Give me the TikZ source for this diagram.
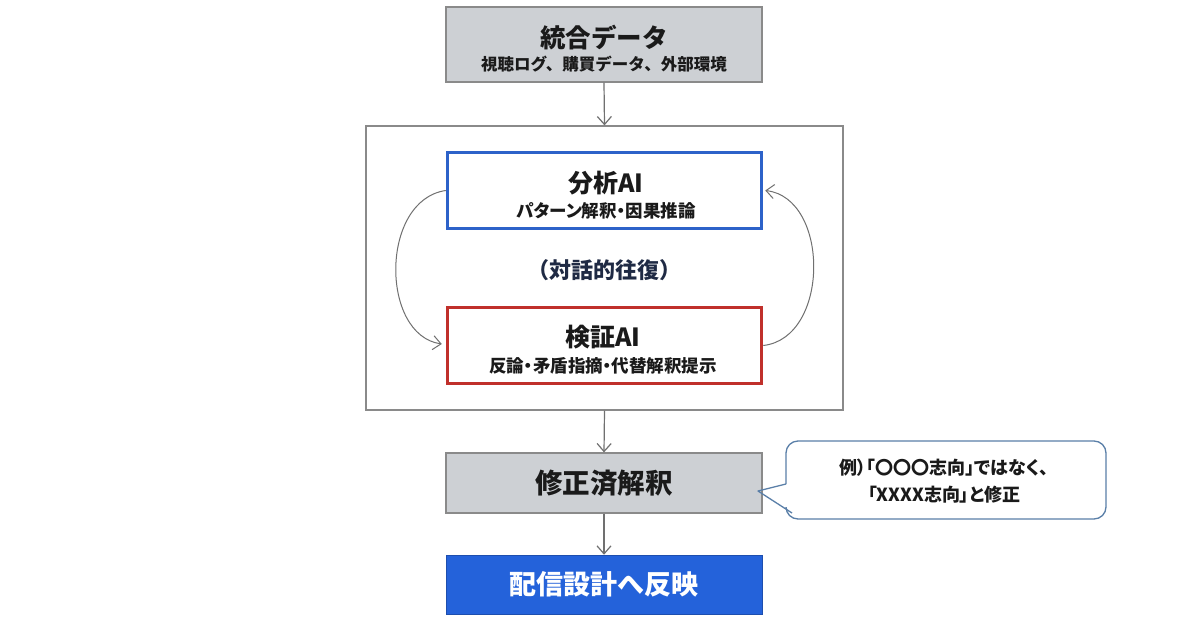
\documentclass[tikz,border=0pt]{standalone}
\usepackage{fontspec}
\setmainfont{Noto Sans CJK JP}
\usetikzlibrary{arrows.meta,positioning}
\definecolor{boxgray}{HTML}{CDD0D4}
\definecolor{linegray}{HTML}{8A8A8A}
\definecolor{arrgray}{HTML}{707070}
\definecolor{aiblue}{HTML}{2D62C9}
\definecolor{aired}{HTML}{C0302B}
\definecolor{fillblue}{HTML}{2462DA}
\definecolor{txt}{HTML}{1A1A1A}
\definecolor{navy}{HTML}{1F2A44}
\definecolor{callb}{HTML}{5A7FA8}
\tikzset{
  graybox/.style={draw=linegray, line width=1.2pt, fill=boxgray, minimum width=316pt, inner sep=0pt, text=txt, align=center},
  aibox/.style={line width=3.5pt, fill=white, minimum width=314pt, minimum height=76pt, inner sep=0pt, text=txt, align=center},
  flow/.style={draw=arrgray, line width=1.2pt, -{Straight Barb[length=8pt,width=14pt,line width=1.2pt]}},
  loop/.style={draw=arrgray, line width=1pt, -{Straight Barb[length=8pt,width=14pt,line width=1pt]}},
  prop/.style={font=\fontsize{#1}{#1}\selectfont\bfseries\addfontfeatures{RawFeature=+palt}, text=txt},
  big/.style={font=\fontsize{#1}{#1}\selectfont\bfseries, text=txt},
}
\begin{document}
\begin{tikzpicture}[x=1pt,y=-1pt]
\useasboundingbox[fill=white] (0,0) rectangle (1200,637);
% top box
\node[graybox, minimum height=75pt] (data) at (604,44.5) {};
\node[big=25.5pt] (datat) at (604,38) {統合データ};
\node[big=16.5pt] (datas) at (604,64) {視聴ログ、購買データ、外部環境};
% outer box
\node[draw=linegray, line width=1.2pt, fill=white, minimum width=477pt, minimum height=284pt, inner sep=0pt] (outer) at (604.5,268) {};
% analysis AI
\node[aibox, draw=aiblue] (ana) at (604.5,190.5) {};
\node[big=25pt] (anat) at (606,183) {分析AI};
\node[prop=17.5pt] (anas) at (606,211) {パターン解釈・因果推論};
% dialogue label
\node[big=22pt, text=navy] (dia) at (604,270) {（対話的往復）};
% verification AI
\node[aibox, draw=aired] (ver) at (604.5,345.5) {};
\node[big=25pt] (vert) at (603,337) {検証AI};
\node[prop=17.5pt] (vers) at (603,366) {反論・矛盾指摘・代替解釈提示};
% loops
\draw[loop] (ana.west) .. controls (380,200) and (380,335) .. ([xshift=-4pt,yshift=1.5pt]ver.west);
\draw[loop] (ver.east) .. controls (830,338) and (830,198) .. ([xshift=2pt]ana.east);
% corrected interpretation
\node[graybox, minimum height=60pt, big=27.5pt] (cor) at (604,483) {修正済解釈};
% delivery design
\node[fill=fillblue, draw=fillblue!80!black, line width=0.5pt, minimum width=316pt, minimum height=59pt, inner sep=0pt, big=27pt, text=white] (del) at (604,584.5) {配信設計へ反映};
% flow arrows
\draw[flow] (data.south) -- (outer.north);
\draw[flow] (outer.south) -- (cor.north);
\draw[flow] (cor.south) -- (del.north);
% callout
\coordinate (tip) at (758,491);
\draw[draw=callb, line width=1.3pt, fill=white, rounded corners=12pt]
  (786,484) -- (786,441) -- (1106,441) -- (1106,519) -- (786,519) -- (786,508);
\fill[white] (784,485) rectangle (788,507);
\draw[draw=callb, line width=1.3pt, line join=round] (786,484) -- (tip) -- (792,513);
\node[prop=18pt] (c1) at (944,468) {例）「〇〇〇志向」ではなく、};
\node[prop=18pt] (c2) at (944,495) {「XXXX志向」と修正};
\end{tikzpicture}
\end{document}
